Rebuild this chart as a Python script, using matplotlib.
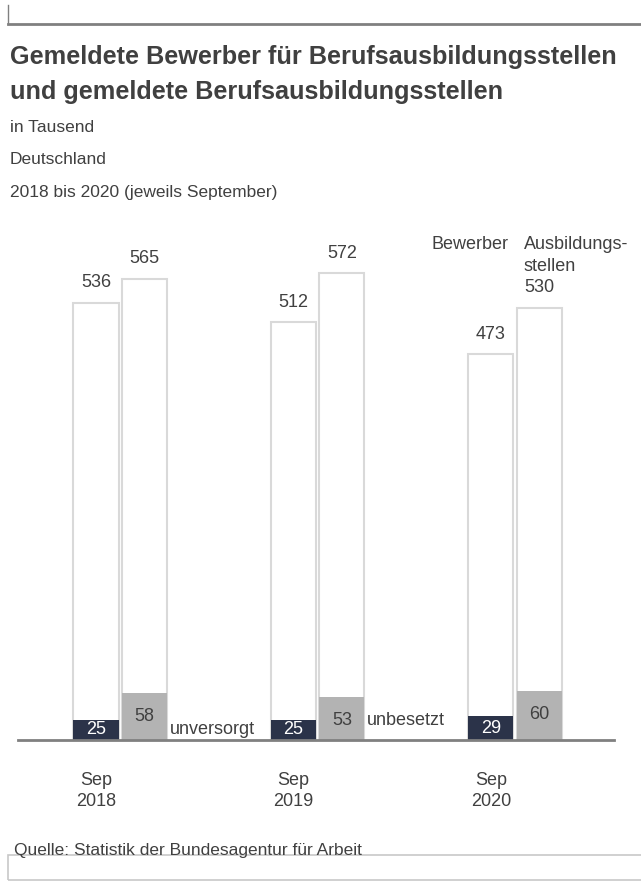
import matplotlib.pyplot as plt
import numpy as np

plt.rcParams['font.family'] = ['Liberation Sans', 'DejaVu Sans']

jahre = ['Sep\n2018', 'Sep\n2019', 'Sep\n2020']
bewerber = [536, 512, 473]
stellen = [565, 572, 530]
unversorgt = [25, 25, 29]
unbesetzt = [58, 53, 60]

txt = '#404040'
dunkel = '#2b3349'
grau = '#b3b3b3'
rand = '#d9d9d9'

W, H = 641, 893
fig = plt.figure(figsize=(W / 100, H / 100), dpi=100)

# Rahmenlinien oben und unten
fig.add_artist(plt.Line2D([8 / W, 8 / W], [1 - 5 / H, 1 - 24 / H], color='#808080', lw=1))
fig.add_artist(plt.Line2D([8 / W, 1], [1 - 24 / H, 1 - 24 / H], color='#808080', lw=2))
fig.add_artist(plt.Rectangle((8 / W, 1 - 880 / H), 1, 25 / H, fill=False,
                             edgecolor='#c8c8c8', lw=1.2))

# Titel
fig.text(10 / W, 1 - 57 / H, 'Gemeldete Bewerber für Berufsausbildungsstellen',
         fontsize=18.2, fontweight='bold', color=txt, va='center')
fig.text(10 / W, 1 - 92 / H, 'und gemeldete Berufsausbildungsstellen',
         fontsize=18.2, fontweight='bold', color=txt, va='center')
fig.text(10 / W, 1 - 128 / H, 'in Tausend', fontsize=12.5, color=txt, va='center')
fig.text(10 / W, 1 - 160 / H, 'Deutschland', fontsize=12.5, color=txt, va='center')
fig.text(10 / W, 1 - 192 / H, '2018 bis 2020 (jeweils September)', fontsize=12.5,
         color=txt, va='center')
fig.text(14 / W, 1 - 850 / H, 'Quelle: Statistik der Bundesagentur für Arbeit',
         fontsize=12.5, color=txt, va='center')

ax = fig.add_axes([18 / W, 153 / H, 596 / W, 510 / H])
x = np.arange(len(jahre))
d = 0.245
w = 0.228

ax.bar(x, bewerber, w, color='white', edgecolor=rand, lw=1.5)
ax.bar(x + d, stellen, w, color='white', edgecolor=rand, lw=1.5)
ax.bar(x, unversorgt, w, color=dunkel, lw=0)
ax.bar(x + d, unbesetzt, w, color=grau, lw=0)

for i in range(len(jahre)):
    ax.annotate(str(bewerber[i]), (x[i], bewerber[i]), xytext=(0, 14.4),
                textcoords='offset points', ha='center', va='center',
                fontsize=13, color=txt)
    ax.annotate(str(stellen[i]), (x[i] + d, stellen[i]), xytext=(0, 14.4),
                textcoords='offset points', ha='center', va='center',
                fontsize=13, color=txt)
    ax.text(x[i], unversorgt[i] / 2, str(unversorgt[i]), ha='center', va='center',
            fontsize=13, color='white')
    ax.annotate(str(unbesetzt[i]), (x[i] + d, unbesetzt[i]), xytext=(0, -17),
                textcoords='offset points', ha='center', va='center',
                fontsize=13, color=txt)

# Beschriftungen der Reihen
ax.text(x[0] + d + w / 2 + 0.015, unversorgt[0] / 2, 'unversorgt', ha='left',
        va='center', fontsize=13, color=txt)
ax.annotate('unbesetzt', (x[1] + d + w / 2 + 0.015, unbesetzt[1]), xytext=(0, -17),
            textcoords='offset points', ha='left', va='center', fontsize=13, color=txt)
ax.text(x[2] + w / 2 - 0.025, 607, 'Bewerber', ha='right', va='center',
        fontsize=13, color=txt)
ax.text(x[2] + d - w / 2 + 0.035, 607, 'Ausbildungs-', ha='left', va='center',
        fontsize=13, color=txt, clip_on=False)
ax.text(x[2] + d - w / 2 + 0.035, 580, 'stellen', ha='left', va='center',
        fontsize=13, color=txt)

ax.set_xlim(-0.395, 2.623)
ax.set_ylim(0, 625)
ax.set_xticks(x)
ax.set_xticklabels(jahre, fontsize=13, color=txt, linespacing=1.3)
ax.tick_params(axis='x', length=0, pad=23)
ax.set_yticks([])
for s in ['top', 'right', 'left']:
    ax.spines[s].set_visible(False)
ax.spines['bottom'].set_color('#808080')
ax.spines['bottom'].set_linewidth(2)

fig.savefig('out.png', dpi=100)
